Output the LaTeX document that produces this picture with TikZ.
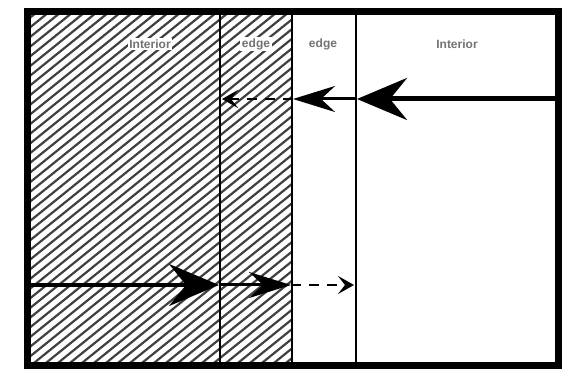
\documentclass[tikz,border=0pt]{standalone}
\usepackage{fontspec}
\usepackage{tikz}
\usetikzlibrary{arrows.meta}
\newfontfamily\labelfont{Liberation Sans}

\begin{document}
\begin{tikzpicture}[x=1pt, y=-1pt,
  label/.style={text=black!55, font=\labelfont\bfseries\fontsize{12}{14}\selectfont},
  divider/.style={line width=2.5pt},
  bigtip/.style={-{Stealth[length=50pt, width=42pt, inset=17pt]}},
  midtip/.style={-{Stealth[length=42pt, width=26pt, inset=14pt]}},
  smalltip/.style={-{Stealth[length=16pt, width=18pt, inset=7pt]}}]
\useasboundingbox (0,0) rectangle (563,371);

% Hatched side
\begin{scope}
\clip (27,12) rectangle (292,366);
\foreach \x in {-504,-492,...,300}
  \draw[line width=2.2pt, black!75] (\x,371) -- ++(460,-371);
\end{scope}

% Dividers
\draw[divider] (220,12) -- (220,366);
\draw[divider] (292,12) -- (292,366);
\draw[divider] (356,12) -- (356,366);

% Frame
\draw[line width=7pt] (27,12) rectangle (558,366);

% Labels
\node[label, fill=white, inner sep=1.5pt] (lint) at (150,44) {Interior};
\node[label, fill=white, inner sep=1.5pt] (ledge) at (256,44) {edge};
\node[label] (redge) at (323,44) {edge};
\node[label] (rint) at (457,44) {Interior};

% Upper flow (right to left)
\coordinate (ur) at (555,99);
\coordinate (ua) at (357,99);
\coordinate (ub) at (293,99);
\coordinate (uc) at (222,99);
\draw[bigtip, line width=5pt] (ur) -- (ua);
\draw[midtip, line width=3pt] (ua) -- (ub);
\draw[smalltip, line width=2.5pt, dash pattern=on 10pt off 8pt] (ub) -- (uc);

% Lower flow (left to right)
\coordinate (ll) at (30,285);
\coordinate (la) at (219,285);
\coordinate (lb) at (291,285);
\coordinate (lc) at (354,285);
\draw[bigtip, line width=4pt] (ll) -- (la);
\draw[midtip, line width=3pt] (la) -- (lb);
\draw[smalltip, line width=2.5pt, dash pattern=on 10pt off 8pt] (lb) -- (lc);
\end{tikzpicture}
\end{document}
